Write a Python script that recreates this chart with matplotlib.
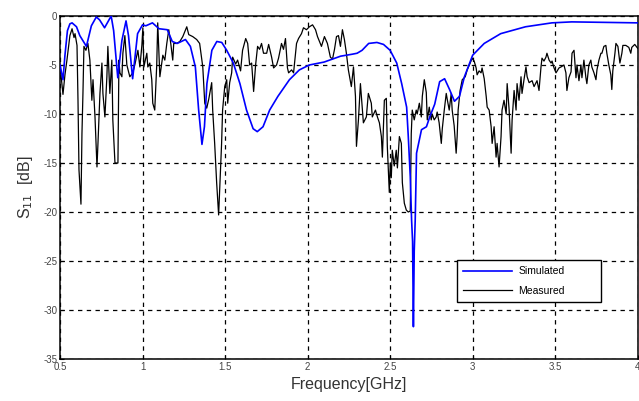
#!/usr/bin/env python3
"""Plot simulated vs measured S11 of the antenna."""

from __future__ import annotations

import matplotlib

matplotlib.use("Agg")
import matplotlib.pyplot as plt

# Simulated S11 (GHz, dB)
sim_freq = [
    0.500, 0.518, 0.530, 0.545, 0.560, 0.573, 0.600, 0.620, 0.660, 0.690,
    0.720, 0.740, 0.770, 0.790, 0.810, 0.825, 0.850, 0.875, 0.900, 0.915,
    0.940, 0.970, 1.000, 1.020, 1.060, 1.100, 1.150, 1.180, 1.210, 1.260,
    1.290, 1.320, 1.340, 1.360, 1.375, 1.390, 1.420, 1.450, 1.480, 1.510,
    1.550, 1.590, 1.630, 1.670, 1.695, 1.730, 1.770, 1.820, 1.890, 1.950,
    2.010, 2.100, 2.200, 2.270, 2.300, 2.330, 2.370, 2.420, 2.460, 2.500,
    2.540, 2.570, 2.600, 2.610, 2.622, 2.630, 2.636, 2.641, 2.646, 2.652,
    2.660, 2.690, 2.720, 2.740, 2.770, 2.800, 2.830, 2.860, 2.890, 2.920,
    2.950, 3.000, 3.070, 3.170, 3.320, 3.480, 3.600, 4.000,
]
sim_db = [
    -5.0, -6.5, -4.0, -1.5, -0.8, -0.7, -1.1, -2.0, -3.1, -1.0,
    -0.1, -0.4, -1.2, -0.6, 0.0, -1.5, -6.3, -2.5, -0.5, -2.0,
    -6.4, -1.8, -0.9, -1.0, -0.7, -1.3, -1.4, -2.6, -2.8, -2.4,
    -3.1, -5.2, -9.6, -13.1, -11.3, -6.9, -3.5, -2.6, -2.7, -3.5,
    -4.8, -6.9, -9.6, -11.5, -11.8, -11.3, -9.6, -8.2, -6.5, -5.5,
    -5.0, -4.7, -4.1, -3.9, -3.8, -3.5, -2.8, -2.7, -2.9, -3.5,
    -4.8, -6.9, -9.3, -12.3, -16.4, -20.8, -23.0, -31.7, -24.0, -20.8,
    -14.0, -11.6, -11.3, -10.3, -9.0, -6.7, -6.4, -7.5, -8.7, -8.2,
    -6.2, -4.0, -2.8, -1.8, -1.1, -0.7, -0.6, -0.7,
]

# Measured S11 (GHz, dB)
meas_freq = [
    0.500, 0.506, 0.518, 0.530, 0.542, 0.560, 0.573, 0.585, 0.591, 0.603,
    0.609, 0.615, 0.627, 0.633, 0.639, 0.645, 0.657, 0.669, 0.681, 0.693,
    0.700, 0.712, 0.724, 0.730, 0.742, 0.754, 0.760, 0.772, 0.784, 0.790,
    0.802, 0.814, 0.820, 0.833, 0.851, 0.857, 0.863, 0.875, 0.881, 0.893,
    0.905, 0.923, 0.941, 0.953, 0.972, 0.984, 0.996, 1.002, 1.008, 1.026,
    1.032, 1.044, 1.056, 1.062, 1.074, 1.086, 1.092, 1.105, 1.123, 1.135,
    1.147, 1.159, 1.171, 1.183, 1.189, 1.207, 1.226, 1.244, 1.268, 1.280,
    1.304, 1.328, 1.346, 1.365, 1.377, 1.389, 1.401, 1.419, 1.425, 1.437,
    1.449, 1.461, 1.479, 1.485, 1.498, 1.510, 1.516, 1.528, 1.540, 1.546,
    1.564, 1.576, 1.594, 1.606, 1.625, 1.637, 1.649, 1.661, 1.673, 1.685,
    1.697, 1.709, 1.721, 1.733, 1.752, 1.764, 1.782, 1.794, 1.812, 1.824,
    1.842, 1.854, 1.866, 1.878, 1.885, 1.903, 1.915, 1.933, 1.945, 1.963,
    1.975, 1.993, 2.011, 2.030, 2.048, 2.060, 2.084, 2.102, 2.120, 2.138,
    2.151, 2.163, 2.175, 2.187, 2.199, 2.211, 2.223, 2.235, 2.247, 2.265,
    2.278, 2.290, 2.296, 2.308, 2.320, 2.332, 2.338, 2.356, 2.368, 2.386,
    2.392, 2.411, 2.423, 2.435, 2.447, 2.453, 2.465, 2.477, 2.483, 2.495,
    2.501, 2.507, 2.513, 2.525, 2.537, 2.544, 2.556, 2.568, 2.574, 2.586,
    2.598, 2.610, 2.622, 2.628, 2.634, 2.646, 2.658, 2.664, 2.677, 2.689,
    2.695, 2.707, 2.719, 2.725, 2.737, 2.749, 2.755, 2.767, 2.779, 2.785,
    2.797, 2.810, 2.816, 2.828, 2.840, 2.846, 2.858, 2.870, 2.876, 2.888,
    2.900, 2.906, 2.912, 2.924, 2.937, 2.955, 2.967, 2.985, 2.997, 3.009,
    3.021, 3.027, 3.039, 3.051, 3.057, 3.070, 3.082, 3.088, 3.100, 3.112,
    3.118, 3.130, 3.142, 3.148, 3.160, 3.172, 3.178, 3.190, 3.203, 3.209,
    3.221, 3.233, 3.239, 3.251, 3.263, 3.269, 3.281, 3.293, 3.299, 3.311,
    3.323, 3.330, 3.342, 3.360, 3.372, 3.390, 3.402, 3.414, 3.420, 3.432,
    3.444, 3.450, 3.463, 3.475, 3.481, 3.493, 3.505, 3.523, 3.535, 3.553,
    3.565, 3.571, 3.583, 3.596, 3.602, 3.614, 3.626, 3.632, 3.644, 3.656,
    3.662, 3.674, 3.686, 3.692, 3.704, 3.716, 3.722, 3.735, 3.747, 3.753,
    3.765, 3.777, 3.783, 3.795, 3.807, 3.813, 3.825, 3.837, 3.843, 3.849,
    3.862, 3.868, 3.880, 3.892, 3.904, 3.910, 3.928, 3.946, 3.958, 3.964,
    3.982, 4.000,
]
meas_db = [
    -5.5, -6.0, -8.0, -6.0, -4.5, -2.0, -1.3, -2.2, -1.8, -3.0,
    -8.6, -15.7, -19.2, -12.0, -7.9, -3.1, -3.5, -2.8, -4.5, -8.6,
    -6.5, -10.3, -15.4, -13.0, -7.9, -4.8, -7.9, -10.3, -6.2, -3.1,
    -7.9, -4.5, -10.6, -15.0, -15.0, -4.5, -5.8, -6.2, -3.8, -2.0,
    -5.0, -6.2, -5.8, -5.0, -3.5, -5.2, -3.0, -1.2, -5.2, -3.8,
    -5.2, -4.8, -6.5, -8.9, -9.6, -5.0, -0.7, -6.2, -4.0, -4.5,
    -2.8, -1.4, -2.8, -4.5, -2.8, -2.8, -2.6, -2.1, -1.1, -1.9,
    -2.1, -2.4, -2.8, -5.2, -8.9, -9.4, -8.5, -6.8, -9.6, -13.0,
    -17.0, -20.3, -13.0, -9.6, -7.2, -6.5, -8.9, -6.8, -5.8, -4.2,
    -4.9, -4.5, -5.6, -3.5, -2.3, -2.8, -5.0, -4.8, -7.7, -5.0,
    -3.1, -3.4, -2.8, -3.8, -3.8, -2.9, -4.2, -5.3, -5.0, -4.3,
    -2.8, -3.4, -2.3, -5.3, -5.8, -5.5, -5.8, -2.8, -2.3, -1.8,
    -1.2, -1.4, -1.1, -0.9, -1.4, -2.1, -3.1, -2.1, -2.8, -4.2,
    -4.4, -3.4, -2.1, -2.0, -3.1, -1.4, -2.4, -3.8, -5.5, -7.2,
    -5.2, -8.2, -13.3, -10.6, -6.9, -9.6, -10.9, -10.3, -7.9, -8.9,
    -10.3, -9.6, -10.3, -10.9, -12.3, -14.4, -8.6, -8.4, -13.3, -18.0,
    -15.0, -16.5, -13.7, -15.3, -13.7, -15.5, -12.3, -13.0, -17.0, -19.1,
    -19.8, -20.0, -19.9, -12.0, -9.6, -10.6, -9.6, -10.0, -8.9, -10.3,
    -8.2, -6.5, -7.8, -10.6, -9.3, -10.6, -10.0, -10.6, -10.3, -9.8,
    -10.9, -13.0, -11.5, -9.6, -7.9, -8.5, -9.6, -7.9, -9.6, -11.2,
    -14.0, -12.3, -9.6, -7.6, -6.5, -6.2, -5.5, -4.8, -4.3, -4.6,
    -5.3, -6.0, -5.6, -5.8, -5.3, -6.4, -8.2, -9.3, -9.6, -11.3,
    -13.0, -11.3, -14.4, -13.0, -15.4, -12.3, -9.6, -8.6, -10.0, -6.9,
    -9.6, -14.0, -10.6, -7.6, -9.6, -6.9, -8.6, -6.2, -7.9, -6.5,
    -5.2, -6.2, -6.8, -6.6, -7.2, -6.6, -7.6, -5.2, -4.3, -4.6,
    -4.2, -3.8, -4.5, -4.8, -4.6, -5.3, -5.8, -5.3, -5.2, -5.0,
    -5.8, -7.6, -6.3, -5.7, -3.8, -3.5, -6.3, -5.0, -6.6, -5.0,
    -6.3, -4.5, -6.3, -6.9, -5.0, -4.5, -5.2, -5.8, -6.5, -5.5,
    -4.5, -3.8, -3.8, -3.1, -3.0, -3.8, -5.0, -6.0, -7.5, -5.6,
    -3.8, -2.8, -3.1, -4.8, -3.8, -3.0, -3.0, -3.2, -3.8, -3.2,
    -2.9, -3.3,
]

x_ticks = [0.5, 1, 1.5, 2, 2.5, 3, 3.5, 4]
x_tick_labels = ["0.5", "1", "1.5", "2", "2.5", "3", "3.5", "4"]
y_ticks = [0, -5, -10, -15, -20, -25, -30, -35]


def main() -> int:
    plt.rcParams["font.family"] = ["Liberation Sans", "DejaVu Sans"]
    plt.rcParams["axes.unicode_minus"] = False

    fig = plt.figure(figsize=(6.39, 4.01), dpi=100)
    ax = fig.add_axes([0.0939, 0.1047, 0.9041, 0.8554])

    ax.plot(sim_freq, sim_db, color="#0000ff", linewidth=1.2, label="Simulated", zorder=3)
    ax.plot(meas_freq, meas_db, color="black", linewidth=0.9, label="Measured", zorder=2)

    ax.set_xlim(0.5, 4)
    ax.set_ylim(-35, 0)
    ax.set_xticks(x_ticks)
    ax.set_xticklabels(x_tick_labels)
    ax.set_yticks(y_ticks)
    ax.set_yticklabels([str(v) for v in y_ticks])
    ax.tick_params(direction="in", length=3, width=0.8, labelsize=7,
                   labelcolor="#444444", pad=2)

    ax.grid(True, color="black", linestyle=(0, (3.5, 3.5)), linewidth=0.9)
    for spine in ax.spines.values():
        spine.set_linewidth(1.1)

    ax.set_xlabel("Frequency[GHz]", fontsize=11.5, color="#333333", labelpad=4)
    ax.set_ylabel("S$_{11}$  [dB]", fontsize=11.5, color="#333333", labelpad=6)

    # legend box pinned in axes coordinates, stretched to the anchor width
    leg = ax.legend(loc="lower left", bbox_to_anchor=(0.687, 0.166, 0.249, 0.12),
                    mode="expand", borderaxespad=0, fontsize=7.5,
                    handlelength=4.7, handletextpad=0.6, borderpad=0.6,
                    labelspacing=0.9, fancybox=False, framealpha=1,
                    edgecolor="black")
    leg.get_frame().set_linewidth(1.0)

    fig.savefig("out.png", dpi=100)
    plt.close(fig)
    return 0


if __name__ == "__main__":
    raise SystemExit(main())
